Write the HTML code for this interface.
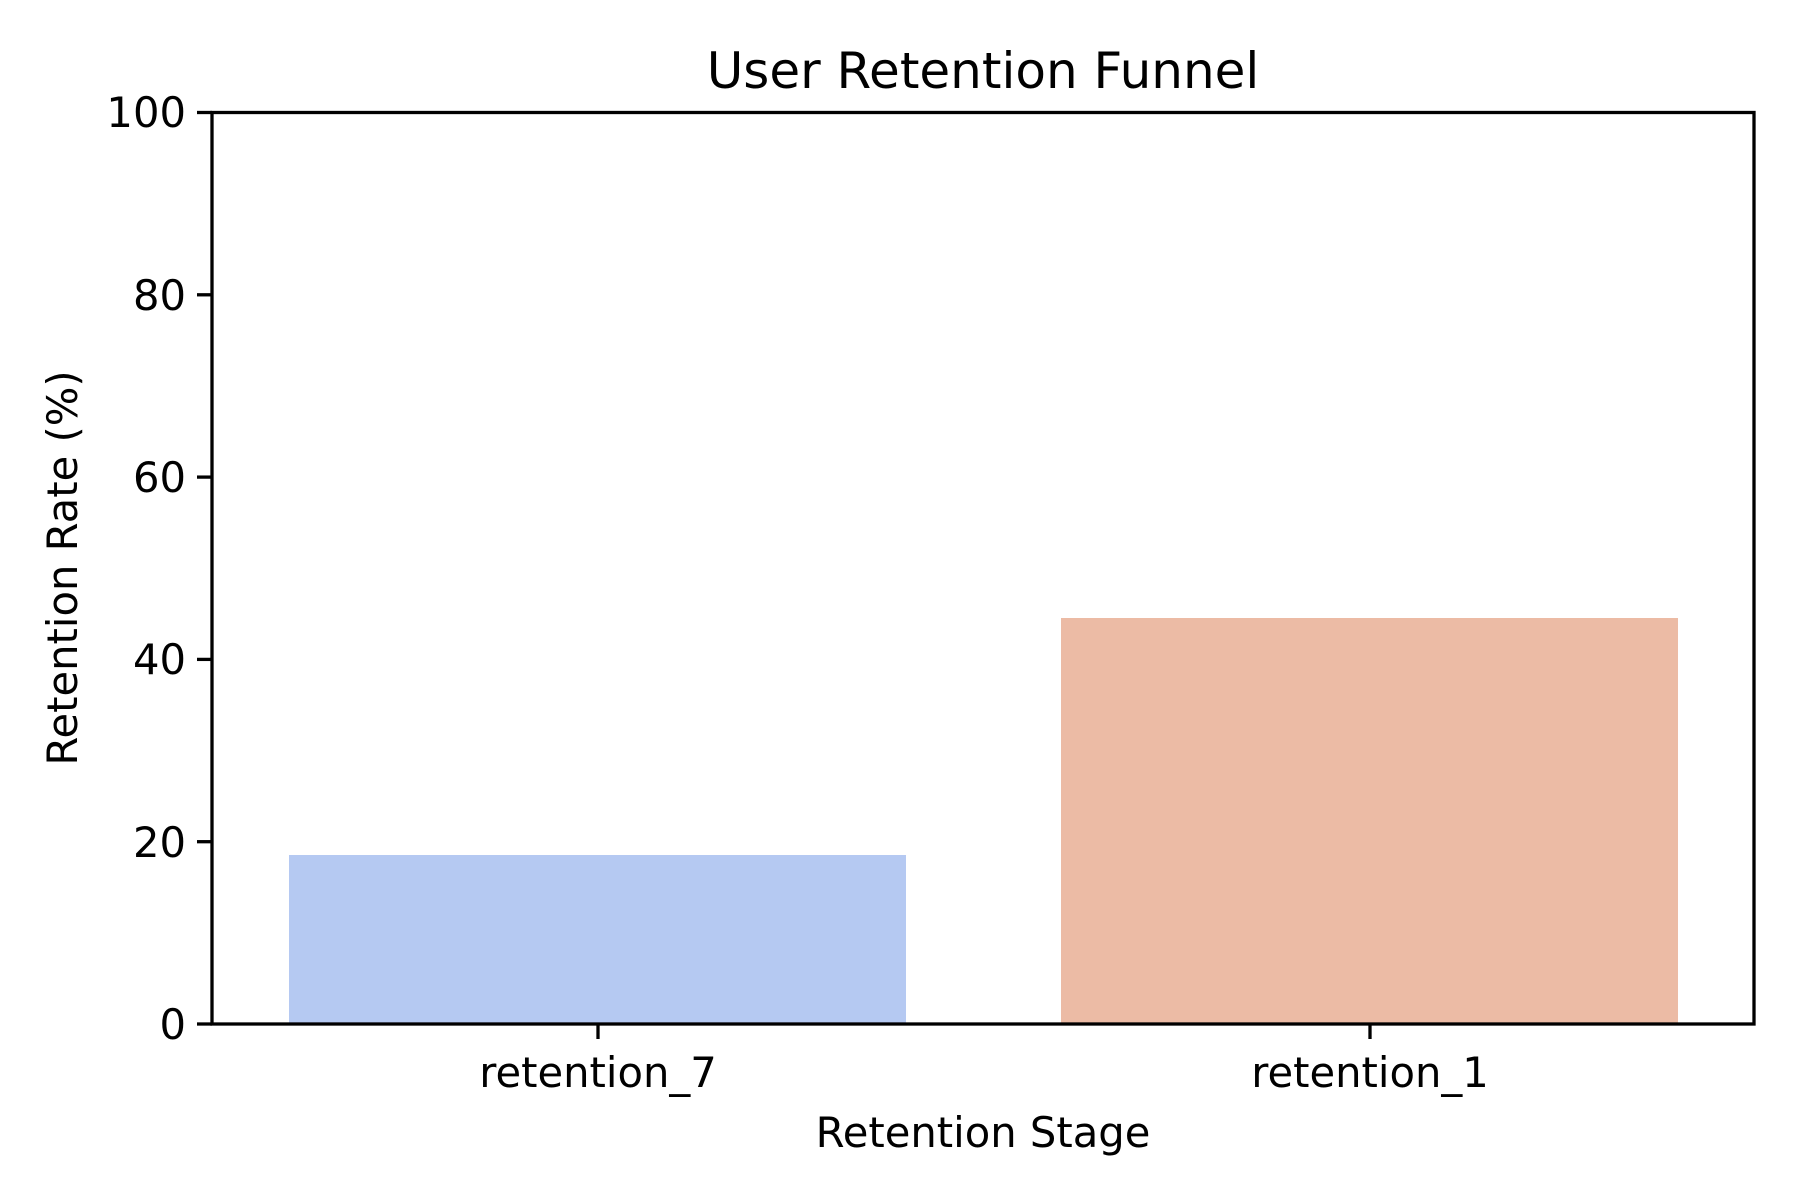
<!DOCTYPE html>
<html><head><meta charset="utf-8"><style>html,body{margin:0;padding:0;background:#fff}svg{display:block}</style></head>
<body>
<svg width="1800" height="1200" viewBox="0 0 1800 1200" xmlns="http://www.w3.org/2000/svg" font-family="DejaVu Sans, Liberation Sans, sans-serif" fill="#000">
<rect width="1800" height="1200" fill="#fff"/>
<rect x="289" y="855" width="617" height="169" fill="#b5c9f2"/>
<rect x="1061" y="618" width="617" height="406" fill="#ecbba5"/>
<rect x="212" y="112.5" width="1542" height="911.5" fill="none" stroke="#000" stroke-width="3.3"/>
<g stroke="#000" stroke-width="3.3">
<line x1="212" y1="1024" x2="197" y2="1024"/>
<line x1="212" y1="841.7" x2="197" y2="841.7"/>
<line x1="212" y1="659.4" x2="197" y2="659.4"/>
<line x1="212" y1="477.1" x2="197" y2="477.1"/>
<line x1="212" y1="294.8" x2="197" y2="294.8"/>
<line x1="212" y1="112.5" x2="197" y2="112.5"/>
<line x1="598" y1="1024" x2="598" y2="1039"/>
<line x1="1370" y1="1024" x2="1370" y2="1039"/>
</g>
<g font-size="41.7" text-anchor="end">
<text x="186" y="1039">0</text>
<text x="186" y="857">20</text>
<text x="186" y="674">40</text>
<text x="186" y="492">60</text>
<text x="186" y="310">80</text>
<text x="186" y="127">100</text>
</g>
<g font-size="41.7" text-anchor="middle">
<text x="598" y="1087">retention_7</text>
<text x="1370" y="1087">retention_1</text>
<text x="983" y="1147">Retention Stage</text>
<text transform="translate(77,568) rotate(-90)">Retention Rate (%)</text>
</g>
<text x="983" y="88" font-size="50" text-anchor="middle">User Retention Funnel</text>
</svg>
</body></html>
